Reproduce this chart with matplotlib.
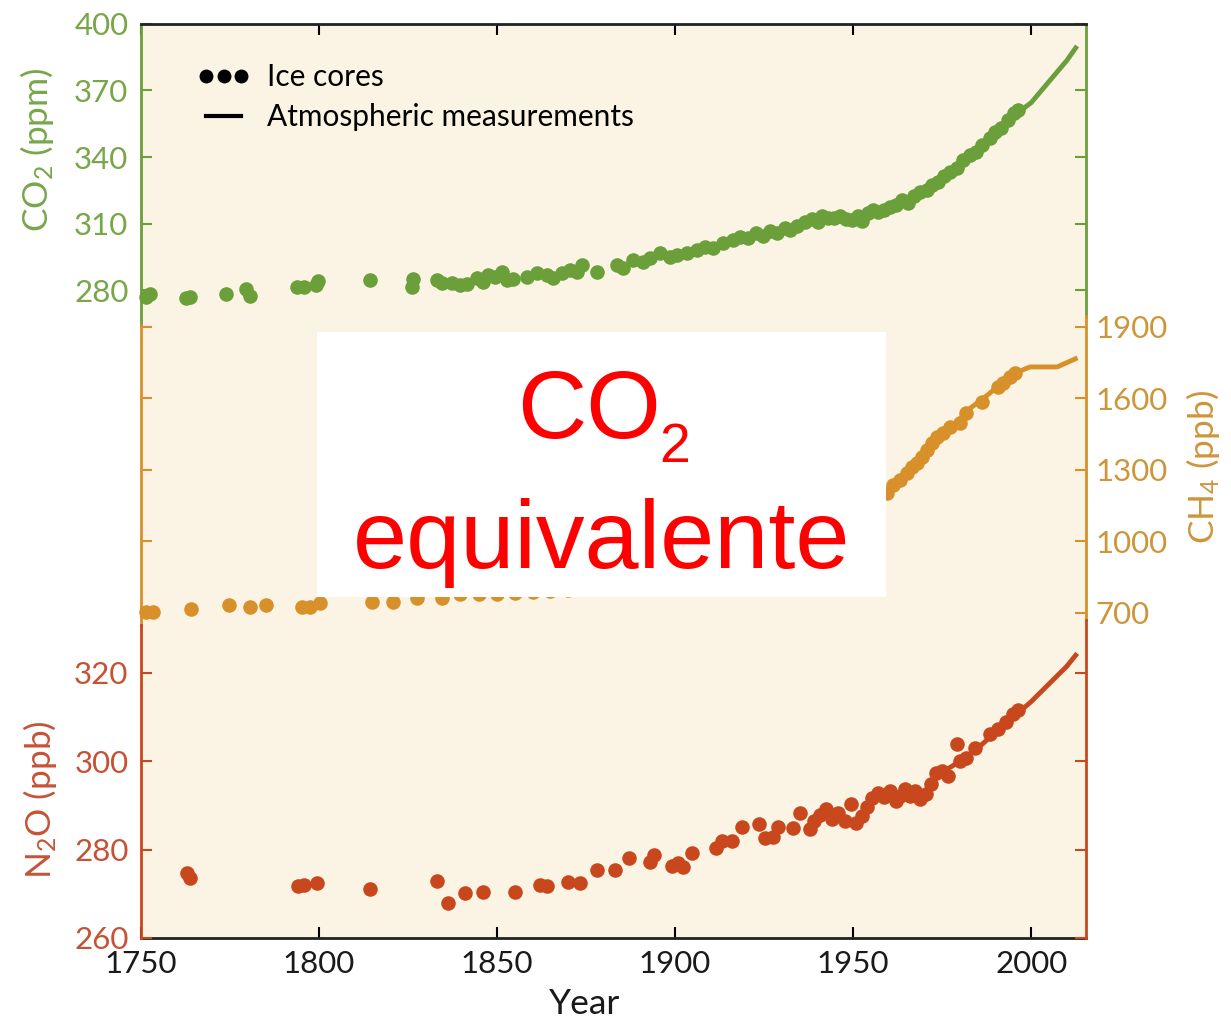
import matplotlib.pyplot as plt
from matplotlib.lines import Line2D
from matplotlib.patches import Rectangle

plt.rcParams['font.family'] = ['Lato', 'DejaVu Sans']

# CO2 (ppm): ice core samples and direct atmospheric record
co2_ice_year = [1751.4, 1752.5, 1762.6, 1763.8, 1773.9, 1779.5, 1780.6, 1793.8, 1795.8, 1799.2,
                1799.7, 1814.3, 1826.1, 1826.4, 1833.1, 1834.6, 1837.4, 1839.6, 1841.6, 1844.4,
                1846.1, 1847.5, 1849.4, 1851.4, 1852.8, 1854.5, 1858.4, 1861.2, 1864.0, 1865.7,
                1868.3, 1870.5, 1872.5, 1873.9, 1878.1, 1883.7, 1885.4, 1888.2, 1891.0, 1893.0,
                1895.8, 1898.6, 1900.6, 1903.4, 1906.2, 1908.4, 1910.7, 1913.5, 1916.3, 1918.3,
                1920.5, 1922.8, 1924.7, 1926.7, 1928.7, 1930.9, 1932.3, 1934.3, 1936.5, 1938.5,
                1940.2, 1941.3, 1943.0, 1944.7, 1946.3, 1948.0, 1949.7, 1951.4, 1952.5, 1954.2,
                1955.6, 1957.0, 1958.7, 1960.4, 1962.1, 1963.8, 1965.4, 1967.1, 1968.8, 1970.8,
                1972.2, 1973.9, 1975.6, 1977.2, 1979.2, 1980.9, 1982.9, 1984.6, 1986.2, 1988.5,
                1989.9, 1991.6, 1993.5, 1995.2, 1996.3]
co2_ice = [276.8, 278.2, 276.4, 276.8, 278.2, 280.5, 277.3, 281.4, 281.4, 282.3,
           284.1, 284.5, 281.4, 285.0, 284.5, 283.2, 283.2, 282.3, 282.7, 285.4,
           283.6, 286.8, 285.9, 288.1, 284.5, 285.0, 285.9, 287.7, 286.8, 285.4,
           287.7, 289.0, 288.1, 291.3, 288.1, 291.3, 289.9, 293.5, 292.6, 294.4,
           296.7, 294.9, 295.8, 296.7, 298.0, 299.4, 298.9, 301.2, 302.6, 303.9,
           303.5, 305.7, 304.4, 306.6, 305.7, 308.0, 307.1, 308.9, 310.7, 312.0,
           310.7, 313.4, 312.5, 312.5, 313.4, 312.0, 311.6, 313.4, 311.1, 314.7,
           316.1, 315.2, 316.1, 317.4, 318.3, 320.6, 319.3, 322.4, 324.2, 325.1,
           327.4, 328.7, 331.4, 333.2, 335.0, 338.6, 340.9, 342.3, 345.4, 348.6,
           351.3, 353.1, 356.7, 359.9, 361.2]
co2_atm_year = [1958, 1965, 1970, 1975, 1980, 1985, 1990, 1995, 2000, 2005, 2010, 2012.5]
co2_atm = [315.0, 319.5, 325.0, 331.0, 338.0, 344.0, 351.0, 358.5, 364.5, 374.0, 383.5, 389.2]

# CH4 (ppb)
ch4_ice_year = [1751.5, 1753.5, 1764.0, 1774.6, 1780.6, 1785.0, 1795.3, 1797.5, 1800.3, 1815.0,
                1820.8, 1827.5, 1834.6, 1839.6, 1845.0, 1850.0, 1855.0, 1860.0, 1865.0, 1870.0,
                1875.0, 1880.0, 1885.0, 1890.0, 1895.0, 1900.0, 1905.0, 1910.0, 1915.0, 1920.0,
                1925.0, 1930.0, 1935.0, 1940.0, 1945.0, 1950.0, 1955.0, 1959.5, 1961.2, 1963.2,
                1965.2, 1966.6, 1968.0, 1969.4, 1970.8, 1972.2, 1973.6, 1975.3, 1977.2, 1980.0,
                1981.7, 1986.2, 1990.7, 1992.1, 1994.1, 1995.5]
ch4_ice = [704, 704, 717, 733, 725, 733, 725, 725, 742, 746,
           746, 763, 763, 780, 780, 780, 784, 788, 790, 795,
           800, 810, 820, 830, 845, 860, 875, 890, 905, 930,
           950, 975, 1000, 1030, 1070, 1110, 1160, 1203, 1237, 1258,
           1287, 1313, 1329, 1355, 1384, 1413, 1438, 1455, 1480, 1497,
           1539, 1585, 1648, 1665, 1690, 1707]
ch4_atm_year = [1959.0, 1963.0, 1967.0, 1971.0, 1975.0, 1979.0, 1983.0, 1987.0, 1991.0, 1995.0,
                1997.7, 1999.7, 2007.3, 2012.4]
ch4_atm = [1205, 1255, 1315, 1385, 1450, 1500, 1560, 1605, 1655, 1700,
           1720, 1732, 1732, 1766]

# N2O (ppb)
n2o_ice_year = [1762.9, 1763.8, 1794.1, 1795.8, 1799.4, 1814.3, 1833.1, 1836.2, 1841.0, 1846.0,
                1855.1, 1862.1, 1864.0, 1870.0, 1873.3, 1878.1, 1883.1, 1887.1, 1893.0, 1894.1,
                1899.2, 1900.8, 1902.2, 1904.8, 1911.5, 1913.2, 1916.0, 1918.8, 1923.6, 1925.3,
                1927.5, 1928.9, 1933.1, 1935.1, 1937.9, 1939.0, 1940.7, 1942.4, 1944.1, 1945.8,
                1947.8, 1949.4, 1950.8, 1952.5, 1953.9, 1955.3, 1957.0, 1958.7, 1960.4, 1962.1,
                1963.2, 1964.6, 1966.0, 1967.4, 1968.8, 1970.5, 1971.9, 1973.3, 1975.0, 1976.7,
                1979.2, 1980.0, 1981.7, 1984.3, 1988.5, 1990.7, 1993.0, 1994.9, 1996.3]
n2o_ice = [274.6, 273.5, 271.7, 271.9, 272.4, 271.0, 272.8, 267.9, 270.1, 270.3,
           270.3, 272.1, 271.7, 272.6, 272.4, 275.5, 275.5, 278.0, 277.1, 278.9,
           276.4, 276.9, 276.0, 279.3, 280.4, 282.0, 282.0, 285.2, 285.8, 282.7,
           282.9, 285.2, 284.9, 288.3, 284.7, 286.5, 287.9, 289.2, 287.0, 288.3,
           286.5, 290.3, 286.1, 287.6, 289.7, 291.7, 292.8, 291.9, 293.3, 291.0,
           292.1, 293.7, 292.1, 293.3, 291.5, 292.6, 294.8, 297.3, 297.7, 296.6,
           304.0, 300.0, 300.7, 302.9, 306.1, 307.2, 309.0, 310.8, 311.7]
n2o_atm_year = [1977.0, 1980.0, 1985.0, 1990.0, 1995.0, 2000.0, 2005.0, 2010.0, 2012.5]
n2o_atm = [298.5, 300.0, 303.0, 306.5, 310.0, 313.5, 317.5, 321.5, 324.0]

year_ticks = [1750, 1800, 1850, 1900, 1950, 2000]
co2_ticks = [280, 310, 340, 370, 400]
ch4_ticks = [700, 1000, 1300, 1600, 1900]
n2o_ticks = [260, 280, 300, 320]

green, green_txt = '#6a9f3a', '#78a649'
orange, orange_txt = '#d8902a', '#cd963b'
red, red_txt = '#c9471d', '#c65236'
paper = '#fbf4e5'

fig = plt.figure(figsize=(12.31, 10.21), dpi=100)
ax = fig.add_axes([0.1145, 0.0813, 0.7677, 0.8952])
ax.set_facecolor(paper)
ax.set_xlim(1750, 2015.4)

ax_ch4 = ax.twinx()
ax_n2o = ax.twinx()

ax.set_ylim(-12.3, 400)
ax_ch4.set_ylim(-664, 3171)
ax_n2o.set_ylim(260, 466.9)


def colour_axis(a, color, txt, ticks, left, right, label_left):
    a.spines['top'].set_visible(False)
    a.spines['bottom'].set_visible(False)
    for side, bounds in (('left', left), ('right', right)):
        a.spines[side].set_visible(True)
        a.spines[side].set_bounds(*bounds)
        a.spines[side].set_color(color)
        a.spines[side].set_linewidth(2)
    a.set_yticks(ticks)
    a.tick_params(axis='y', direction='in', length=8, width=1.5, color=color,
                  labelcolor=txt, labelsize=22.5, left=True, right=True,
                  labelleft=label_left, labelright=not label_left,
                  pad=9 if label_left else 6.5)


colour_axis(ax, green, green_txt, co2_ticks, (264, 400), (268, 400), True)
colour_axis(ax_ch4, orange, orange_txt, ch4_ticks, (650, 1908), (671, 1946), False)
colour_axis(ax_n2o, red, red_txt, n2o_ticks, (260, 330.9), (260, 332), True)

for side in ('top', 'bottom'):
    ax.spines[side].set_visible(True)
    ax.spines[side].set_color('#222222')
    ax.spines[side].set_linewidth(2)
ax.set_xticks(year_ticks)
ax.tick_params(axis='x', direction='in', length=8, width=1.5, top=True, bottom=True,
               labelsize=22.5, labelcolor='#1a1a1a', pad=9)

# series
ax.plot(co2_atm_year, co2_atm, color=green, lw=3.5, zorder=2)
ax.scatter(co2_ice_year, co2_ice, s=110, color=green, linewidths=0, zorder=3, clip_on=False)
ax_ch4.plot(ch4_atm_year, ch4_atm, color=orange, lw=3.5, zorder=2)
ax_ch4.scatter(ch4_ice_year, ch4_ice, s=110, color=orange, linewidths=0, zorder=3, clip_on=False)
ax_n2o.plot(n2o_atm_year, n2o_atm, color=red, lw=3.5, zorder=2)
ax_n2o.scatter(n2o_ice_year, n2o_ice, s=110, color=red, linewidths=0, zorder=3, clip_on=False)

# axis titles
ax.text(-0.110, 0.863, r'$\mathregular{CO_2}$ (ppm)', transform=ax.transAxes, rotation=90,
        ha='center', va='center', fontsize=25.5, color=green_txt)
ax.text(-0.107, 0.151, r'$\mathregular{N_2O}$ (ppb)', transform=ax.transAxes, rotation=90,
        ha='center', va='center', fontsize=25.5, color=red_txt)
ax.text(1.124, 0.515, r'$\mathregular{CH_4}$ (ppb)', transform=ax.transAxes, rotation=90,
        ha='center', va='center', fontsize=25.5, color=orange_txt)
ax.set_xlabel('Year', fontsize=25.5, color='#1a1a1a')
ax.xaxis.set_label_coords(0.469, -0.055)

handles = [Line2D([], [], ls='none', marker='o', markersize=9, color='black'),
           Line2D([], [], color='black', lw=3)]
ax_n2o.legend(handles, ['Ice cores', 'Atmospheric measurements'], loc='upper left',
              bbox_to_anchor=(0.059, 0.957), frameon=False, numpoints=3, fontsize=21.5,
              handlelength=1.8, handletextpad=0.55, labelspacing=0.4,
              borderpad=0, borderaxespad=0)

# white label panel on top of the chart
fig.add_artist(Rectangle((0.2575, 0.4153), 0.4622, 0.2595, transform=fig.transFigure,
                         facecolor='white', edgecolor='none', zorder=20))
fig.text(517 / 1231, 0.571, 'CO', fontsize=69, color='#ff0000',
         family='Liberation Sans', ha='left', va='baseline', zorder=21)
fig.text(659 / 1231, 0.5475, '2', fontsize=40, color='#ff0000',
         family='Liberation Sans', ha='left', va='baseline', zorder=21)
fig.text(0.4886, 0.4437, 'equivalente', fontsize=70, color='#ff0000',
         family='Liberation Sans', ha='center', va='baseline', zorder=21)

fig.savefig('out.png', dpi=100)
